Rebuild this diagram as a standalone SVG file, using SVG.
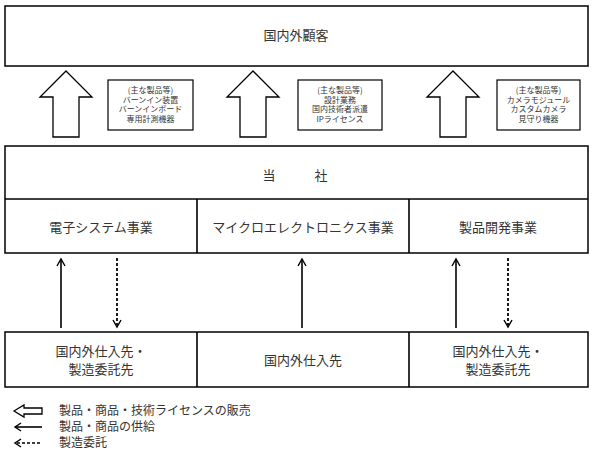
<svg xmlns="http://www.w3.org/2000/svg" width="593" height="455" viewBox="0 0 593 455">
<style>
.box{fill:#fff;stroke:#000;stroke-width:1.5}
.lbl{fill:#fff;stroke:#000;stroke-width:1.2}
.t{font-family:"Noto Sans CJK JP","Noto Sans",sans-serif;font-size:13px;fill:#333;text-anchor:middle}
.s{font-family:"Noto Sans CJK JP","Noto Sans",sans-serif;font-size:8px;fill:#333;text-anchor:middle}
.lg{font-family:"Noto Sans CJK JP","Noto Sans",sans-serif;font-size:12px;fill:#333}
.big{fill:#fff;stroke:#000;stroke-width:1.3;stroke-linejoin:miter}
.ln{stroke:#000;stroke-width:1.6;fill:none}
.dl{stroke:#000;stroke-width:1.8;fill:none;stroke-dasharray:3 2}
.hd{stroke:#000;stroke-width:1.4;fill:none}
</style>
<rect width="593" height="455" fill="#fff"/>
<g id="customers">
<rect class="box" x="5" y="6" width="583" height="60"/>
<text class="t" x="296" y="40">国内外顧客</text>
</g>
<g id="company">
<rect class="box" x="5" y="146" width="583" height="107"/>
<line class="ln" x1="5" y1="199" x2="588" y2="199"/>
<text class="t" x="269" y="180">当</text>
<text class="t" x="321" y="180">社</text>
</g>
<g id="div-electronic">
<line class="ln" x1="197" y1="199" x2="197" y2="253"/>
<text class="t" x="101" y="232">電子システム事業</text>
</g>
<g id="div-micro">
<line class="ln" x1="409" y1="199" x2="409" y2="253"/>
<text class="t" x="303" y="232">マイクロエレクトロニクス事業</text>
</g>
<g id="div-product">
<text class="t" x="498" y="232">製品開発事業</text>
</g>
<g id="suppliers">
<rect class="box" x="5" y="332" width="583" height="55"/>
<line class="ln" x1="197" y1="332" x2="197" y2="387"/>
<line class="ln" x1="409" y1="332" x2="409" y2="387"/>
<text class="t" x="101" y="356">国内外仕入先・</text>
<text class="t" x="101" y="374">製造委託先</text>
<text class="t" x="303" y="365">国内外仕入先</text>
<text class="t" x="498" y="356">国内外仕入先・</text>
<text class="t" x="498" y="374">製造委託先</text>
</g>
<g id="label-1">
<rect class="lbl" x="108" y="80" width="85" height="50"/>
<text class="s" x="150.5" y="93">(主な製品等)</text>
<text class="s" x="150.5" y="102.7">バーンイン装置</text>
<text class="s" x="150.5" y="112.4">バーンインボード</text>
<text class="s" x="150.5" y="122.1">専用計測機器</text>
</g>
<g id="label-2">
<rect class="lbl" x="298" y="80" width="84" height="50"/>
<text class="s" x="340" y="93">(主な製品等)</text>
<text class="s" x="340" y="102.7">設計業務</text>
<text class="s" x="340" y="112.4">国内技術者派遣</text>
<text class="s" x="340" y="122.1">IPライセンス</text>
</g>
<g id="label-3">
<rect class="lbl" x="497" y="80" width="83" height="50"/>
<text class="s" x="538.5" y="93">(主な製品等)</text>
<text class="s" x="538.5" y="102.7">カメラモジュール</text>
<text class="s" x="538.5" y="112.4">カスタムカメラ</text>
<text class="s" x="538.5" y="122.1">見守り機器</text>
</g>
<g id="connectors">
<polygon class="big" points="66,71 92,97 79,97 79,137 53,137 53,97 40,97"/>
<polygon class="big" points="253,71 279,97 266,97 266,137 240,137 240,97 227,97"/>
<polygon class="big" points="453,71 479,97 466,97 466,137 440,137 440,97 427,97"/>
<line class="ln" x1="61" y1="328" x2="61" y2="260"/>
<polyline class="hd" points="57,266 61,259 65,266"/>
<line class="dl" x1="117" y1="258" x2="117" y2="325"/>
<polyline class="hd" points="113,320 117,327 121,320"/>
<line class="ln" x1="302" y1="328" x2="302" y2="260"/>
<polyline class="hd" points="298,266 302,259 306,266"/>
<line class="ln" x1="456" y1="328" x2="456" y2="260"/>
<polyline class="hd" points="452,266 456,259 460,266"/>
<line class="dl" x1="508" y1="258" x2="508" y2="325"/>
<polyline class="hd" points="504,320 508,327 512,320"/>
</g>
<g id="legend">
<polygon class="big" points="14,411 24,405 24,408 42,408 42,414 24,414 24,417"/>
<line class="ln" x1="15" y1="427" x2="42" y2="427"/>
<polyline class="hd" points="21,423 15,427 21,431"/>
<line class="ln" x1="17" y1="443" x2="42" y2="443" style="stroke-dasharray:3 2"/>
<polyline class="hd" points="21,439 15,443 21,447"/>
<text class="lg" x="59" y="415">製品・商品・技術ライセンスの販売</text>
<text class="lg" x="59" y="431">製品・商品の供給</text>
<text class="lg" x="59" y="447">製造委託</text>
</g>
</svg>
